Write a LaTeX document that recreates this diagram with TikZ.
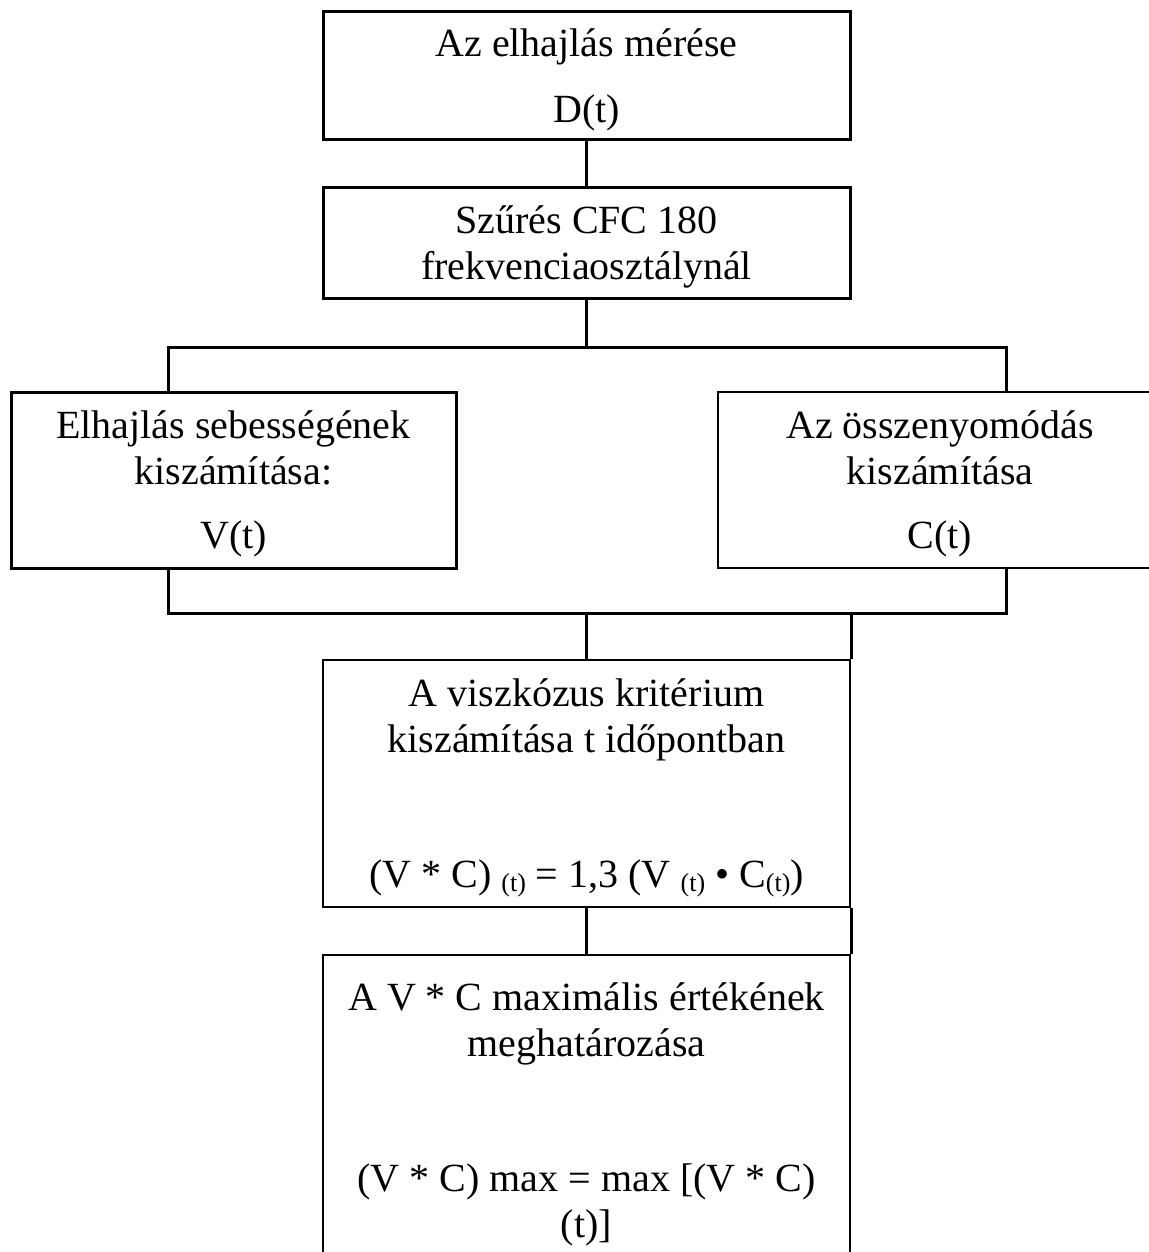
\documentclass[tikz,border=0pt]{standalone}
\usepackage{fontspec}
\setmainfont{Liberation Serif}
\usepackage{tikz}
\usetikzlibrary{calc}

% small lowered (t) used in the formula
\newcommand{\lowt}{\raisebox{-4pt}{\fontsize{26}{26}\selectfont(t)}}

\begin{document}
\begin{tikzpicture}[x=1pt,y=-1pt,
  box/.style={draw, line width=3pt, align=center, inner sep=0pt, text depth=0pt,
    font=\fontsize{40}{46}\selectfont},
  thinbox/.style={box, line width=2.2pt},
  link/.style={line width=3pt}]
\useasboundingbox (0,0) rectangle (1148,1252);

% Measuring and filtering
\node[box, minimum width=527, minimum height=128] (meres) at (586.5,76)
  {Az elhajlás mérése\\[20pt]D(t)};
\node[box, minimum width=527, minimum height=110] (szures) at (586.5,243)
  {Szűrés CFC 180\\frekvenciaosztálynál};

% Two branches
\node[box, minimum width=445, minimum height=176] (sebesseg) at (233.5,480)
  {Elhajlás sebességének\\kiszámítása:\\[18pt]V(t)};
\node[thinbox, minimum width=444, minimum height=176] (osszenyom) at (940,480)
  {Az összenyomódás\\kiszámítása\\[18pt]C(t)};

% Criterion and maximum
\node[thinbox, line width=2.6pt, minimum width=527, minimum height=247] (kriterium) at (586.5,783.5)
  {A viszkózus kritérium\\kiszámítása t időpontban\\[89pt]%
   (V * C) \lowt{} = 1,3 (V \lowt{} • C\lowt)};
\node[thinbox, line width=2.6pt, minimum width=527, minimum height=311] (maximum) at (586.5,1110.5)
  {A V * C maximális értékének\\meghatározása\\[89pt]%
   (V * C) max = max [(V * C)\\(t)]};

% Branch points
\coordinate (felso-bal) at (168,347);
\coordinate (felso-jobb) at (1006,347);
\coordinate (also-bal) at (168,613);
\coordinate (also-jobb) at (1006,613);

% Connectors
\draw[link] (meres) -- (szures);
\draw[link] (szures) -- (szures.south |- felso-bal);
\draw[link] (felso-bal |- sebesseg.north) -- (felso-bal) -- (felso-jobb) -- (felso-jobb |- osszenyom.north);
\draw[link] (also-bal |- sebesseg.south) -- (also-bal) -- (also-jobb) -- (also-jobb |- osszenyom.south);
\draw[link] (kriterium.north |- also-bal) -- (kriterium.north);
\draw[link] (kriterium.north east |- also-bal) -- (kriterium.north east);
\draw[link] (kriterium.south) -- (maximum.north);
\draw[link] (kriterium.south east) -- (maximum.north east);
\end{tikzpicture}
\end{document}
